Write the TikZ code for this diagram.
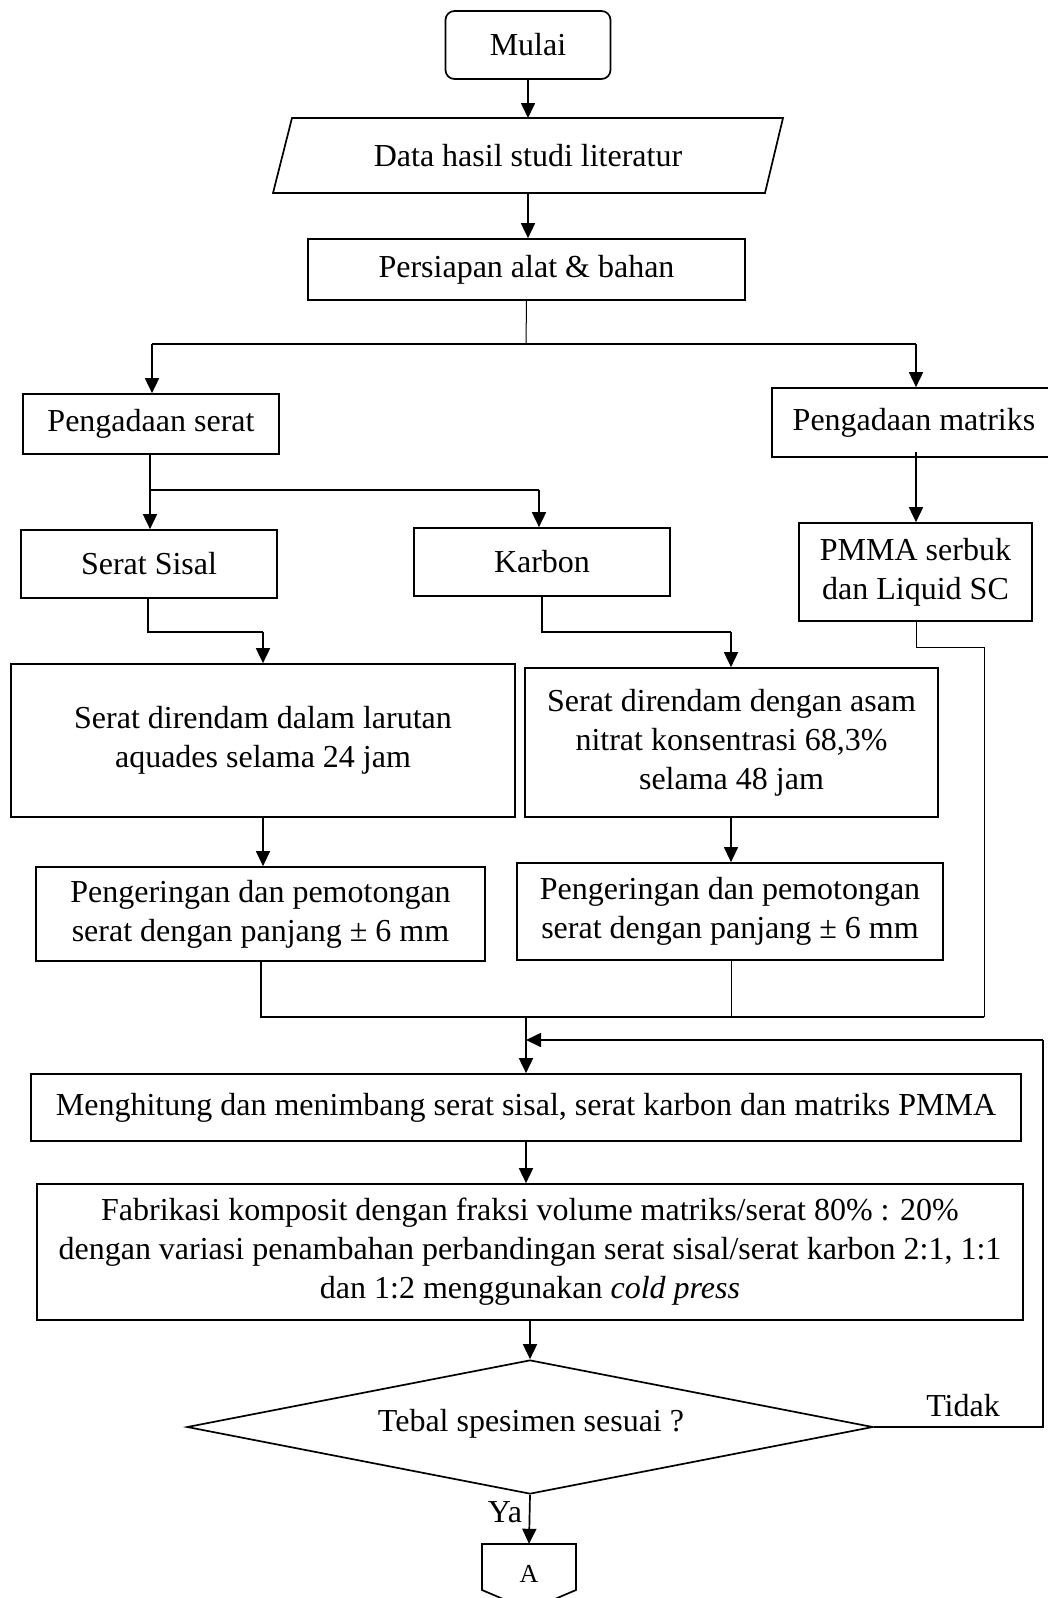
\documentclass[tikz,border=0pt]{standalone}
\usepackage{fontspec}
\setmainfont{Liberation Serif}
\usetikzlibrary{arrows.meta,shapes.geometric}
\begin{document}
\begin{tikzpicture}[x=1pt,y=-1pt,
  every node/.style={font=\fontsize{32}{39}\selectfont},
  bx/.style={draw,line width=1.7pt,inner sep=0pt,align=center},
  arr/.style={line width=1.7pt,-{Triangle[length=15pt,width=14pt]}},
  arrthin/.style={line width=1.2pt,-{Triangle[length=15pt,width=14pt]}},
  ln/.style={line width=1.7pt},
  lnthin/.style={line width=1pt}]
\useasboundingbox (0,0) rectangle (1048,1598);
\clip (0,0) rectangle (1048,1598);
\fill[white] (0,0) rectangle (1048,1598);

% nodes
\node[bx,rounded corners=9pt,minimum width=165pt,minimum height=68pt] (mulai) at (528,45) {Mulai};
\node[inner sep=0pt,minimum width=491pt,minimum height=75pt] (data) at (528,155.5) {Data hasil studi literatur};
\draw[ln] (292,118) -- (783,118) -- (765,193) -- (273,193) -- cycle;
\node[bx,minimum width=437pt,minimum height=61pt] (siap) at (526.5,269.5) {Persiapan alat \& bahan};
\node[bx,minimum width=256pt,minimum height=60pt] (pserat) at (151,424) {Pengadaan serat};
\node[bx,minimum width=280pt,minimum height=69pt] (pmat) at (912,422.5) {\hspace*{4pt}Pengadaan matriks};
\node[bx,minimum width=256pt,minimum height=68pt] (sisal) at (149,564) {Serat Sisal};
\node[bx,minimum width=256pt,minimum height=68pt] (karbon) at (542,562) {Karbon};
\node[bx,minimum width=233pt,minimum height=98pt] (pmma) at (915.5,572) {PMMA serbuk\\dan Liquid SC};
\node[bx,minimum width=504pt,minimum height=153pt] (rendl) at (263,740.5) {\raisebox{8pt}{\begin{tabular}{@{}c@{}}Serat direndam dalam larutan\\aquades selama 24 jam\end{tabular}}};
\node[bx,minimum width=413pt,minimum height=149pt] (rendr) at (731.5,742.5) {\raisebox{6pt}{\begin{tabular}{@{}c@{}}Serat direndam dengan asam\\nitrat konsentrasi 68,3\%\\selama 48 jam\end{tabular}}};
\node[bx,minimum width=449pt,minimum height=94pt] (kerl) at (260.5,914) {Pengeringan dan pemotongan\\serat dengan panjang ± 6 mm};
\node[bx,minimum width=426pt,minimum height=97pt] (kerr) at (730,911.5) {Pengeringan dan pemotongan\\serat dengan panjang ± 6 mm};
\node[bx,minimum width=990pt,minimum height=67pt] (hitung) at (526,1107.5) {Menghitung dan menimbang serat sisal, serat karbon dan matriks PMMA};
\node[bx,minimum width=986pt,minimum height=136pt] (fab) at (530,1252) {Fabrikasi komposit dengan fraksi volume matriks/serat 80\% : 20\%\\dengan variasi penambahan perbandingan serat sisal/serat karbon 2:1, 1:1\\dan 1:2 menggunakan \textit{cold press}};
\node[draw,line width=1.7pt,shape=diamond,aspect=5,inner sep=0pt,minimum width=686pt,minimum height=134pt] (dec) at (530,1427) {};
\node (dectext) at (531,1424) {Tebal spesimen sesuai ?};
\node (tidak) at (963,1406) {Tidak};
\node (ya) at (505,1512) {Ya};
\node[inner sep=0pt,minimum width=94pt,minimum height=50pt] (a) at (529,1569) {};
\draw[ln] (482,1544) -- (576,1544) -- (576,1590) -- (529,1610) -- (482,1590) -- cycle;
\node[font=\fontsize{26}{30}\selectfont] (atext) at (529,1574) {A};

% coordinates
\coordinate (split1) at (526,344);
\coordinate (splitL) at (152,344);
\coordinate (splitR) at (916,344);
\coordinate (split2) at (150,490);
\coordinate (split2R) at (539,490);
\coordinate (sisalB) at (148,632);
\coordinate (karbonB) at (542,632);
\coordinate (pmmaB) at (916,647);
\coordinate (pmmaR) at (984,647);
\coordinate (mergeR) at (984,1017);
\coordinate (merge) at (526,1017);
\coordinate (loopR) at (1043,1427);
\coordinate (loopT) at (1043,1040);
\coordinate (loopE) at (526,1040);

% connectors
\draw[arr] (mulai.south) -- (528,118);
\draw[arr] (528,193) -- (siap.north -| 528,0);
\draw[lnthin] (siap.south) -- (split1);
\draw[ln] (splitL) -- (splitR);
\draw[arr] (splitL) -- (pserat.north -| splitL);
\draw[arr] (splitR) -- (pmat.north -| splitR);
\draw[ln] (pserat.south -| split2) -- (split2) -- (split2R);
\draw[arr] (split2) -- (sisal.north -| split2);
\draw[arr] (split2R) -- (karbon.north -| split2R);
\draw[arr] (916,452) -- (pmma.north -| 916,0);
\draw[ln] (sisal.south -| sisalB) -- (sisalB) -- (sisalB -| rendl.north);
\draw[arr] (sisalB -| rendl.north) -- (rendl.north);
\draw[ln] (karbon.south -| karbonB) -- (karbonB) -- (karbonB -| 731,0);
\draw[arr] (karbonB -| 731,0) -- (rendr.north -| 731,0);
\draw[arrthin] (rendl.south) -- (kerl.north -| rendl.south);
\draw[arrthin] (rendr.south -| 731,0) -- (kerr.north -| 731,0);
\draw[ln] (kerl.south -| 261,0) -- (261,1017) -- (731,1017);
\draw[lnthin] (kerr.south -| 731,0) -- (731,1017);
\draw[lnthin] (pmma.south -| pmmaB) -- (pmmaB) -- (pmmaR) -- (mergeR);
\draw[ln] (mergeR) -- (520,1017);
\draw[arr] (merge) -- (hitung.north -| merge);
\draw[arr] (hitung.south -| merge) -- (fab.north -| merge);
\draw[arr] (fab.south -| dec.north) -- (dec.north);
\draw[ln] (dec.east) -- (loopR) -- (loopT);
\draw[arr] (loopT) -- (loopE);
\draw[arr] (dec.south) -- (a.north);
\end{tikzpicture}
\end{document}
